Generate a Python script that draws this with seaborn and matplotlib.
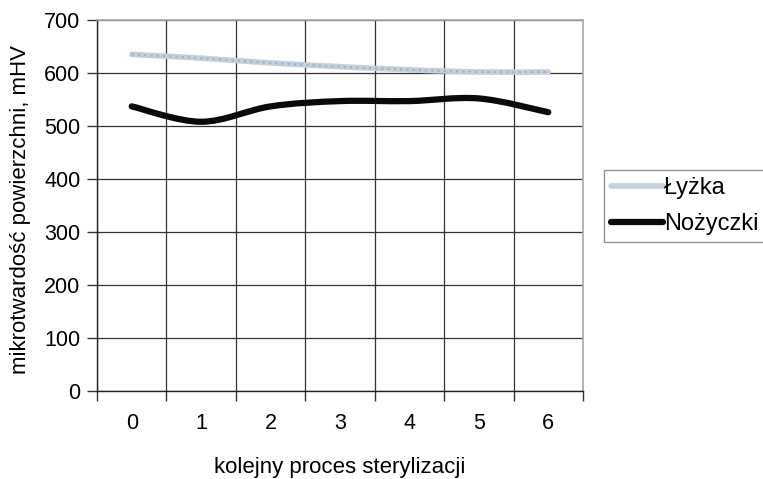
import numpy as np
import pandas as pd
import matplotlib
matplotlib.use('Agg')
import matplotlib.pyplot as plt
from matplotlib.path import Path
from matplotlib.patches import PathPatch
from matplotlib.lines import Line2D
import seaborn as sns

steps = [0, 1, 2, 3, 4, 5, 6]
lyzka = [635, 628, 619, 612, 606, 602, 602]
nozyczki = [537, 508, 537, 547, 547, 552, 526]
series_names = ['Łyżka', 'Nożyczki']
y_ticks = [0, 100, 200, 300, 400, 500, 600, 700]

df = pd.DataFrame({'krok': steps * 2,
                   'wartosc': lyzka + nozyczki,
                   'seria': [series_names[0]] * len(steps) + [series_names[1]] * len(steps)})


# wygładzona linia jak w Excelu (krzywe Beziera przez punkty)
def smooth_path(x, y):
    pts = np.column_stack([x, y]).astype(float)
    n = len(pts)
    verts = [pts[0]]
    codes = [Path.MOVETO]
    for i in range(n - 1):
        p0 = pts[i - 1] if i > 0 else pts[i]
        p1 = pts[i]
        p2 = pts[i + 1]
        p3 = pts[i + 2] if i + 2 < n else pts[i + 1]
        c1 = p1 + (p2 - p0) / 6.0
        c2 = p2 - (p3 - p1) / 6.0
        verts += [c1, c2, p2]
        codes += [Path.CURVE4] * 3
    return Path(verts, codes)


sns.set_style('white')
plt.rcParams['font.family'] = ['Liberation Sans', 'DejaVu Sans']
plt.rcParams['text.color'] = 'black'
plt.rcParams['axes.labelcolor'] = 'black'
plt.rcParams['xtick.labelcolor'] = 'black'
plt.rcParams['ytick.labelcolor'] = 'black'

fig = plt.figure(figsize=(7.63, 4.79), dpi=100)
ax = fig.add_axes([97 / 763, 88 / 479, 486 / 763, 371 / 479])

palette = {'Łyżka': '#c3cfdb', 'Nożyczki': '#111111'}
sns.lineplot(data=df, x='krok', y='wartosc', hue='seria', palette=palette,
             linewidth=1, legend=False, ax=ax)

colors = ['#c3cfdb', '#0a0a0a']
widths = [4, 4.5]
for vals, col, lw in zip([lyzka, nozyczki], colors, widths):
    ax.add_patch(PathPatch(smooth_path(steps, vals), fill=False, edgecolor=col,
                           linewidth=lw, capstyle='round', zorder=3))
# nakrapiana tekstura łyżki
ax.add_patch(PathPatch(smooth_path(steps, lyzka), fill=False, edgecolor='#9db0c4',
                       linewidth=1.5, linestyle=(0, (1, 2)), zorder=3))

ax.set_xlim(-0.5, 6.5)
ax.set_ylim(0, 700)
ax.set_yticks(y_ticks)
ax.set_xticks(np.arange(-0.5, 7, 1))
ax.set_xticklabels([])
ax.set_xticks(steps, minor=True)
ax.set_xticklabels([str(s) for s in steps], minor=True)
ax.grid(True, which='major', color='#333333', linewidth=0.9)
ax.tick_params(axis='x', which='major', direction='out', length=7, width=1, color='#333333', bottom=True)
ax.tick_params(axis='x', which='minor', length=0, pad=16, labelsize=15.5, labelcolor='black')
ax.tick_params(axis='y', direction='out', length=7, width=1, color='#333333', left=True, pad=5,
               labelsize=15.5, labelcolor='black')

for side in ['left', 'bottom']:
    ax.spines[side].set_color('#222222')
    ax.spines[side].set_linewidth(1)
for side in ['top', 'right']:
    ax.spines[side].set_color('#aaaaaa')
    ax.spines[side].set_linewidth(1.2)

ax.set_xlabel('kolejny proces sterylizacji', fontsize=16, color='black')
ax.set_ylabel('mikrotwardość powierzchni, mHV', fontsize=16, color='black')
ax.xaxis.set_label_coords(0.5, -0.178)
ax.yaxis.set_label_coords(-0.135, 0.49)

handles = [Line2D([], [], color=colors[0], linewidth=4),
           Line2D([], [], color=colors[1], linewidth=4.5)]
leg = fig.legend(handles, series_names, loc='upper left',
                 bbox_to_anchor=(604 / 763, 1 - 170 / 479), bbox_transform=fig.transFigure,
                 fontsize=17, frameon=True, fancybox=False, handlelength=2.2,
                 handletextpad=0.05, borderpad=0.3, labelspacing=0.6, borderaxespad=0)
leg.get_frame().set_edgecolor('#777777')
leg.get_frame().set_linewidth(1)
for t in leg.get_texts():
    t.set_color('black')

fig.savefig('out.png', dpi=100)
